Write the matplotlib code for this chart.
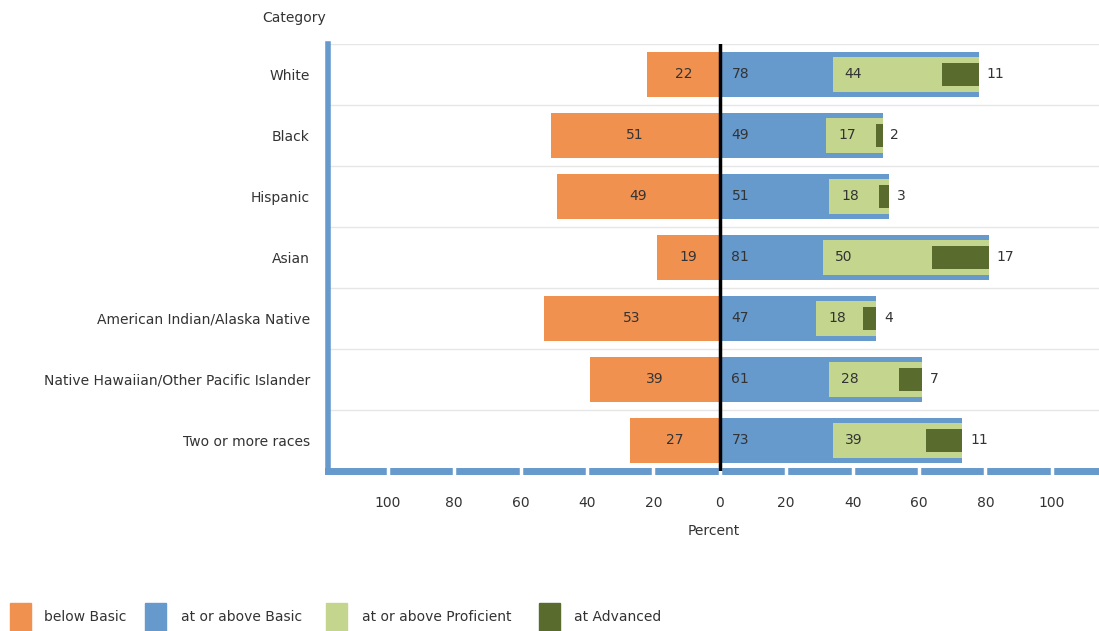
import matplotlib.pyplot as plt
from matplotlib.patches import Rectangle

plt.rcParams['font.family'] = ['DejaVu Sans']

categories = ['White', 'Black', 'Hispanic', 'Asian', 'American Indian/Alaska Native',
              'Native Hawaiian/Other Pacific Islander', 'Two or more races']
below_basic = [22, 51, 49, 19, 53, 39, 27]
above_basic = [78, 49, 51, 81, 47, 61, 73]
above_proficient = [44, 17, 18, 50, 18, 28, 39]
advanced = [11, 2, 3, 17, 4, 7, 11]
ticks = [-100, -80, -60, -40, -20, 0, 20, 40, 60, 80, 100]

c_below = '#F0914F'
c_basic = '#6699CC'
c_prof = '#C4D68E'
c_adv = '#596B2D'
txt = '#333333'

fig = plt.figure(figsize=(10.99, 6.31), dpi=100)
ax = fig.add_axes([0.2985, 0.2536, 0.7015, 0.6767])

y = list(range(len(categories)))
ax.barh(y, [-v for v in below_basic], height=0.74, color=c_below, zorder=2)
ax.barh(y, above_basic, height=0.74, color=c_basic, zorder=2)
left_prof = [b - p for b, p in zip(above_basic, above_proficient)]
ax.barh(y, above_proficient, left=left_prof, height=0.57, color=c_prof, zorder=3)
left_adv = [b - a for b, a in zip(above_basic, advanced)]
ax.barh(y, advanced, left=left_adv, height=0.38, color=c_adv, zorder=4)

for i in y:
    ax.text(-below_basic[i] / 2, i, str(below_basic[i]), ha='center', va='center',
            fontsize=10, color=txt, zorder=5)
    ax.text(3.5, i, str(above_basic[i]), ha='left', va='center', fontsize=10, color=txt, zorder=5)
    ax.text(left_prof[i] + 3.6, i, str(above_proficient[i]), ha='left', va='center',
            fontsize=10, color=txt, zorder=5)
    ax.text(above_basic[i] + 2.4, i, str(advanced[i]), ha='left', va='center',
            fontsize=10, color=txt, zorder=5)

# row separators
for k in range(0, len(categories)):
    ax.axhline(k - 0.5, color='#E6E6E6', lw=1, zorder=1)

ax.axvline(0, color='black', lw=2.5, zorder=6)

ax.set_yticks(y)
ax.set_yticklabels(categories, fontsize=10, color=txt)
ax.tick_params(axis='y', length=0, pad=13)
ax.set_xticks(ticks + [-120, 120])
ax.set_xticklabels([str(abs(t)) for t in ticks] + ['', ''], fontsize=10, color=txt)
ax.tick_params(axis='x', direction='inout', length=6, width=2.5, color='white', pad=15)
ax.set_xlim(-118, 114.2)
ax.set_ylim(len(categories) - 0.5, -0.5)

for s in ['top', 'right']:
    ax.spines[s].set_visible(False)
ax.spines['bottom'].set_color(c_basic)
ax.spines['bottom'].set_linewidth(5)
ax.spines['left'].set_color(c_basic)
ax.spines['left'].set_linewidth(4)
ax.set_axisbelow(False)

ax.set_xlabel('Percent', fontsize=10, color=txt, labelpad=10)
fig.text(0.268, 0.972, 'Category', ha='center', va='center', fontsize=10, color=txt)

# legend drawn in figure pixels
legend_items = [(c_below, 'below Basic', 10, 44),
                (c_basic, 'at or above Basic', 145, 181),
                (c_prof, 'at or above Proficient', 326, 362),
                (c_adv, 'at Advanced', 539, 574)]
W, H = 1099, 631
for col, lab, px, tx in legend_items:
    fig.patches.append(Rectangle((px / W, 0), 21 / W, 28 / H, color=col,
                                 transform=fig.transFigure, figure=fig))
    fig.text(tx / W, 1 - 617 / H, lab, ha='left', va='center', fontsize=10, color=txt)

fig.savefig('out.png', dpi=100)
